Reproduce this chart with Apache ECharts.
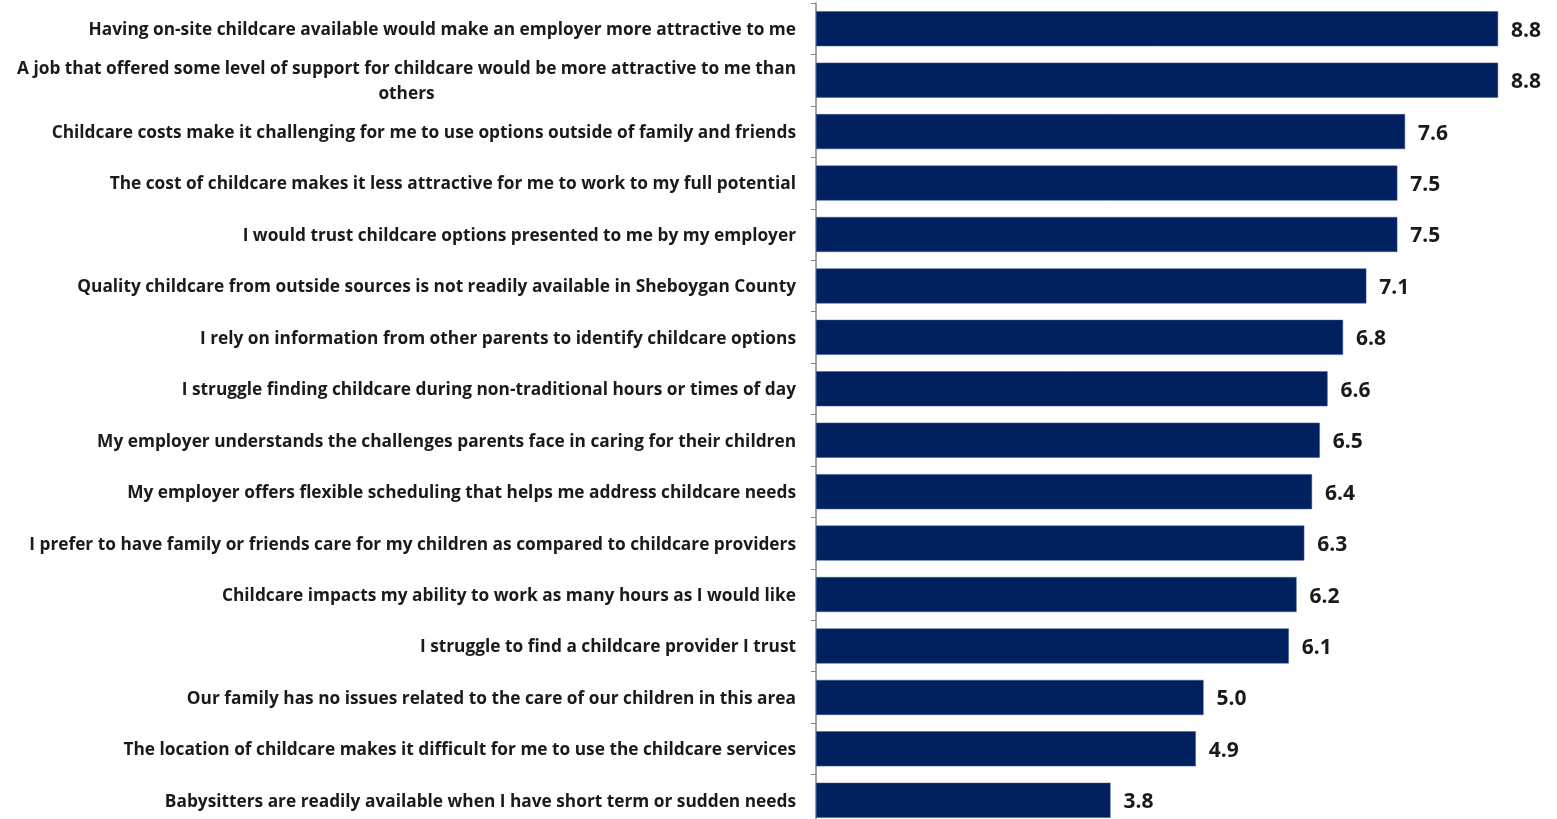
<!DOCTYPE html>
<html><head><meta charset="utf-8">
<script src="https://cdn.jsdelivr.net/npm/echarts@6/dist/echarts.min.js"></script>
<style>html,body{margin:0;padding:0;background:#fff;overflow:hidden}#c{width:1557px;height:826px}</style>
</head><body><div id="c"></div>
<script>
const categories = [
  "Having on-site childcare available would make an employer more attractive to me",
  "A job that offered some level of support for childcare would be more attractive to me than\nothers",
  "Childcare costs make it challenging for me to use options outside of family and friends",
  "The cost of childcare makes it less attractive for me to work to my full potential",
  "I would trust childcare options presented to me by my employer",
  "Quality childcare from outside sources is not readily available in Sheboygan County",
  "I rely on information from other parents to identify childcare options",
  "I struggle finding childcare during non-traditional hours or times of day",
  "My employer understands the challenges parents face in caring for their children",
  "My employer offers flexible scheduling that helps me address childcare needs",
  "I prefer to have family or friends care for my children as compared to childcare providers",
  "Childcare impacts my ability to work as many hours as I would like",
  "I struggle to find a childcare provider I trust",
  "Our family has no issues related to the care of our children in this area",
  "The location of childcare makes it difficult for me to use the childcare services",
  "Babysitters are readily available when I have short term or sudden needs"
];
const values = [8.8, 8.8, 7.6, 7.5, 7.5, 7.1, 6.8, 6.6, 6.5, 6.4, 6.3, 6.2, 6.1, 5.0, 4.9, 3.8];

const chart = echarts.init(document.getElementById('c'));
const FONT = 'Open Sans';
const LS = 17.3;
chart.setOption({
  animation: false,
  grid: { left: 816, top: 3, right: 0, bottom: 0, containLabel: false },
  xAxis: { type: 'value', min: 0, max: 9.56, show: false },
  yAxis: {
    type: 'category', inverse: true, data: categories,
    axisLine: { show: true, lineStyle: { color: '#868686', width: 1.5 } },
    axisTick: { show: true, length: 5, lineStyle: { color: '#868686' } },
    axisLabel: {
      margin: 20, color: '#1a1a1a', fontFamily: FONT, fontWeight: 'bold', fontSize: LS,
      lineHeight: 25, padding: [3, 0, 0, 0],
      formatter: function (v) {
        if (v.indexOf('\n') >= 0) {
          const p = v.split('\n');
          return '{a|' + p[0] + '}\n{c|' + p[1] + '}';
        }
        return v;
      },
      rich: {
        a: { fontFamily: FONT, fontWeight: 'bold', fontSize: LS, color: '#1a1a1a', lineHeight: 25 },
        c: { fontFamily: FONT, fontWeight: 'bold', fontSize: LS, color: '#1a1a1a', lineHeight: 25, align: 'center' }
      }
    }
  },
  series: [{
    type: 'bar', data: values, barWidth: 35,
    itemStyle: { color: '#002060', borderColor: '#3a5a9a', borderWidth: 0.5 },
    label: {
      show: true, position: 'right', distance: 13, offset: [0, 2],
      fontFamily: FONT, fontWeight: 'bold', fontSize: 21, color: '#1a1a1a',
      formatter: function (p) { return p.value.toFixed(1); }
    }
  }]
});
</script></body></html>
